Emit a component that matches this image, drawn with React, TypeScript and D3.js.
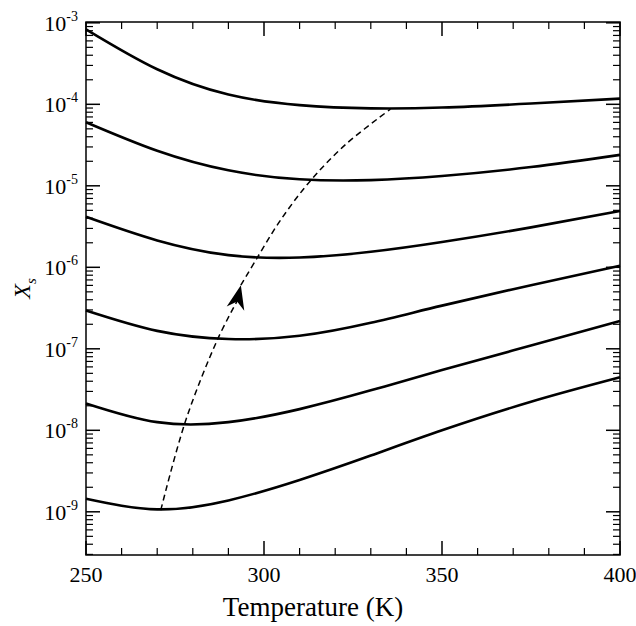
import React from 'react';
import * as d3 from 'd3';

const temps = [250, 270, 290, 310, 330, 350, 375, 400];
// log10 of X_s for each curve, read at temps
const curve1 = [-3.08, -3.57, -3.88, -4.01, -4.05, -4.04, -3.99, -3.93];
const curve2 = [-4.22, -4.57, -4.81, -4.92, -4.93, -4.88, -4.77, -4.62];
const curve3 = [-5.38, -5.67, -5.85, -5.88, -5.81, -5.69, -5.51, -5.31];
const curve4 = [-6.53, -6.78, -6.88, -6.84, -6.68, -6.47, -6.22, -5.98];
const curve5 = [-7.67, -7.90, -7.90, -7.74, -7.51, -7.26, -6.96, -6.66];
const curve6 = [-8.84, -8.97, -8.86, -8.61, -8.31, -8.00, -7.65, -7.35];
const curves = [curve1, curve2, curve3, curve4, curve5, curve6];

// dashed path (T, log10 X_s)
const pathLow = [[271, -8.98], [278, -7.88], [287, -6.88], [292.5, -6.41]];
const pathHigh = [[293.5, -6.22], [298, -5.89], [304.5, -5.43], [313, -4.94], [323, -4.49], [335.5, -4.06]];

const decades = [-3, -4, -5, -6, -7, -8, -9];
const xMajor = [250, 300, 350, 400];

const serif = 'Liberation Serif, Times New Roman, serif';

export default function App() {
  const L = 86, R = 620, T = 22, B = 555;
  const x = d3.scaleLinear().domain([250, 400]).range([L, R]);
  const y = d3.scaleLinear().domain([-9.53, -2.99]).range([B, T]);
  const line = d3.line<number[]>().x(d => x(d[0])).y(d => y(d[1])).curve(d3.curveNatural);
  const dline = d3.line<number[]>().x(d => x(d[0])).y(d => y(d[1])).curve(d3.curveCatmullRom);

  const minor: number[] = [];
  for (let e = -10; e <= -3; e++) for (let m = 2; m <= 9; m++) {
    const v = e + Math.log10(m);
    if (v > -9.53 && v < -2.99) minor.push(v);
  }
  const xMinor = d3.range(250, 401, 10).filter(v => v % 50 !== 0);

  const tip = pathHigh[0];
  const tx = x(tip[0]), ty = y(tip[1]);
  const bx = x(pathLow[3][0]), by = y(pathLow[3][1]);
  const ang = Math.atan2(ty - by, tx - bx);
  const ah = 24, aw = 9;
  const p = (dx: number, dy: number) =>
    `${tx + dx * Math.cos(ang) - dy * Math.sin(ang)},${ty + dx * Math.sin(ang) + dy * Math.cos(ang)}`;
  const arrow = `M${p(0, 0)}L${p(-ah, -aw)}L${p(-ah * 0.7, 0)}L${p(-ah, aw)}Z`;

  return (
    <svg width={636} height={626} style={{ position: 'absolute', left: 0, top: 0, background: '#fff', fontFamily: serif }}>
      <rect x={L} y={T} width={R - L} height={B - T} fill="none" stroke="#000" strokeWidth={1.5} />
      {decades.map(d => (
        <g key={d}>
          <line x1={L} x2={L + 14} y1={y(d)} y2={y(d)} stroke="#000" strokeWidth={1.5} />
          <line x1={R} x2={R - 14} y1={y(d)} y2={y(d)} stroke="#000" strokeWidth={1.5} />
          <text x={L - 8} y={y(d) + 8} textAnchor="end" fontSize={22} style={{ fontFamily: serif }}>
            10<tspan dy={-10} fontSize={14}>{d}</tspan>
          </text>
        </g>
      ))}
      {minor.map((v, i) => (
        <g key={i}>
          <line x1={L} x2={L + 7} y1={y(v)} y2={y(v)} stroke="#000" strokeWidth={1.2} />
          <line x1={R} x2={R - 7} y1={y(v)} y2={y(v)} stroke="#000" strokeWidth={1.2} />
        </g>
      ))}
      {xMajor.map(v => (
        <g key={v}>
          <line x1={x(v)} x2={x(v)} y1={B} y2={B - 14} stroke="#000" strokeWidth={1.5} />
          <line x1={x(v)} x2={x(v)} y1={T} y2={T + 14} stroke="#000" strokeWidth={1.5} />
          <text x={x(v)} y={B + 27} textAnchor="middle" fontSize={22} style={{ fontFamily: serif }}>{v}</text>
        </g>
      ))}
      {xMinor.map(v => (
        <g key={v}>
          <line x1={x(v)} x2={x(v)} y1={B} y2={B - 7} stroke="#000" strokeWidth={1.2} />
          <line x1={x(v)} x2={x(v)} y1={T} y2={T + 7} stroke="#000" strokeWidth={1.2} />
        </g>
      ))}
      {curves.map((c, i) => (
        <path key={i} d={line(temps.map((t, j) => [t, c[j]])) || ''} fill="none" stroke="#000" strokeWidth={2.6} />
      ))}
      <path d={dline(pathLow) || ''} fill="none" stroke="#000" strokeWidth={1.5} strokeDasharray="6,4" />
      <path d={dline(pathHigh) || ''} fill="none" stroke="#000" strokeWidth={1.5} strokeDasharray="6,4" />
      <path d={arrow} fill="#000" />
      <text x={313} y={616} textAnchor="middle" fontSize={27} style={{ fontFamily: serif }}>Temperature (K)</text>
      <text transform={`translate(30,${(T + B) / 2}) rotate(-90)`} textAnchor="middle" fontSize={24}
        fontStyle="italic" style={{ fontFamily: serif }}>
        X<tspan dy={6} fontSize={15}>s</tspan>
      </text>
    </svg>
  );
}
